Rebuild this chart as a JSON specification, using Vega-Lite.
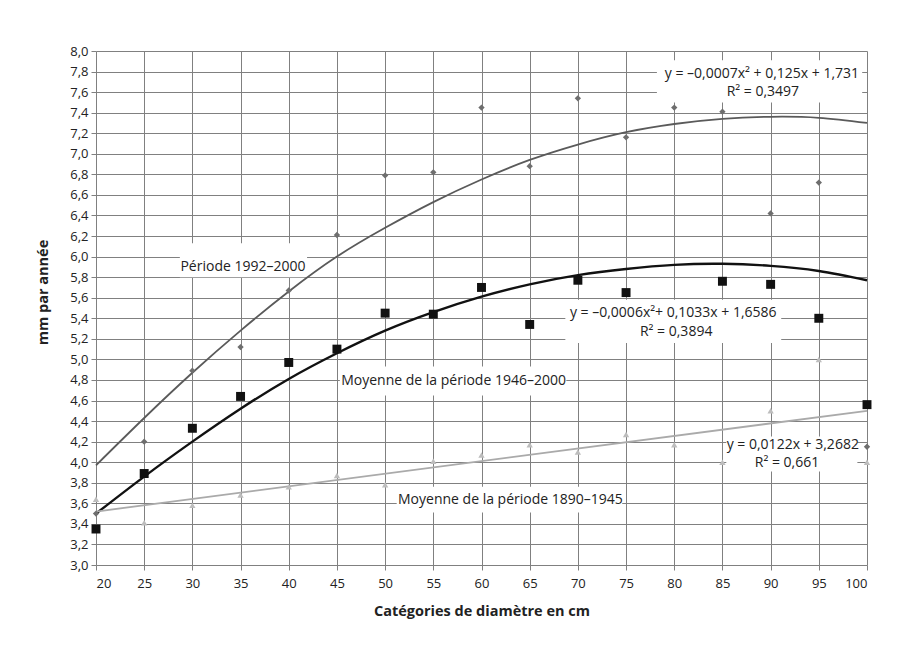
{
  "$schema": "https://vega.github.io/schema/vega-lite/v6.json",
  "width": 771,
  "height": 514,
  "autosize": "none",
  "padding": {"left": 96, "top": 51, "right": 32, "bottom": 83},
  "background": "white",
  "config": {
    "view": {"stroke": null},
    "font": "Open Sans",
    "axis": {
      "gridColor": "#808080",
      "gridWidth": 1,
      "gridOpacity": 1,
      "domain": false,
      "tickColor": "#808080",
      "tickSize": 5,
      "labelFont": "Open Sans",
      "labelFontSize": 13,
      "labelColor": "#222",
      "titleFont": "Open Sans",
      "titleFontSize": 14.5,
      "titleFontWeight": "bold",
      "titleColor": "#222"
    }
  },
  "datasets": {
    "pts": [
      {"d": 20, "v": 3.50, "s": "p1992"},
      {"d": 25, "v": 4.20, "s": "p1992"},
      {"d": 30, "v": 4.89, "s": "p1992"},
      {"d": 35, "v": 5.12, "s": "p1992"},
      {"d": 40, "v": 5.67, "s": "p1992"},
      {"d": 45, "v": 6.21, "s": "p1992"},
      {"d": 50, "v": 6.79, "s": "p1992"},
      {"d": 55, "v": 6.82, "s": "p1992"},
      {"d": 60, "v": 7.45, "s": "p1992"},
      {"d": 65, "v": 6.88, "s": "p1992"},
      {"d": 70, "v": 7.54, "s": "p1992"},
      {"d": 75, "v": 7.16, "s": "p1992"},
      {"d": 80, "v": 7.45, "s": "p1992"},
      {"d": 85, "v": 7.41, "s": "p1992"},
      {"d": 90, "v": 6.42, "s": "p1992"},
      {"d": 95, "v": 6.72, "s": "p1992"},
      {"d": 100, "v": 4.15, "s": "p1992"},
      {"d": 20, "v": 3.35, "s": "m1946"},
      {"d": 25, "v": 3.89, "s": "m1946"},
      {"d": 30, "v": 4.33, "s": "m1946"},
      {"d": 35, "v": 4.64, "s": "m1946"},
      {"d": 40, "v": 4.97, "s": "m1946"},
      {"d": 45, "v": 5.10, "s": "m1946"},
      {"d": 50, "v": 5.45, "s": "m1946"},
      {"d": 55, "v": 5.44, "s": "m1946"},
      {"d": 60, "v": 5.70, "s": "m1946"},
      {"d": 65, "v": 5.34, "s": "m1946"},
      {"d": 70, "v": 5.77, "s": "m1946"},
      {"d": 75, "v": 5.65, "s": "m1946"},
      {"d": 85, "v": 5.76, "s": "m1946"},
      {"d": 90, "v": 5.73, "s": "m1946"},
      {"d": 95, "v": 5.40, "s": "m1946"},
      {"d": 100, "v": 4.56, "s": "m1946"},
      {"d": 20, "v": 3.64, "s": "m1890"},
      {"d": 25, "v": 3.41, "s": "m1890"},
      {"d": 30, "v": 3.58, "s": "m1890"},
      {"d": 35, "v": 3.68, "s": "m1890"},
      {"d": 40, "v": 3.76, "s": "m1890"},
      {"d": 45, "v": 3.87, "s": "m1890"},
      {"d": 50, "v": 3.78, "s": "m1890"},
      {"d": 55, "v": 4.01, "s": "m1890"},
      {"d": 60, "v": 4.07, "s": "m1890"},
      {"d": 65, "v": 4.17, "s": "m1890"},
      {"d": 70, "v": 4.10, "s": "m1890"},
      {"d": 75, "v": 4.27, "s": "m1890"},
      {"d": 80, "v": 4.17, "s": "m1890"},
      {"d": 85, "v": 4.00, "s": "m1890"},
      {"d": 90, "v": 4.50, "s": "m1890"},
      {"d": 95, "v": 5.00, "s": "m1890"},
      {"d": 100, "v": 4.00, "s": "m1890"}
    ],
    "trend": [
      {"d": 20, "v": 3.97, "s": "p1992"},
      {"d": 25, "v": 4.43, "s": "p1992"},
      {"d": 30, "v": 4.87, "s": "p1992"},
      {"d": 35, "v": 5.28, "s": "p1992"},
      {"d": 40, "v": 5.66, "s": "p1992"},
      {"d": 45, "v": 6.00, "s": "p1992"},
      {"d": 50, "v": 6.28, "s": "p1992"},
      {"d": 55, "v": 6.53, "s": "p1992"},
      {"d": 60, "v": 6.75, "s": "p1992"},
      {"d": 65, "v": 6.94, "s": "p1992"},
      {"d": 70, "v": 7.09, "s": "p1992"},
      {"d": 75, "v": 7.21, "s": "p1992"},
      {"d": 80, "v": 7.29, "s": "p1992"},
      {"d": 85, "v": 7.34, "s": "p1992"},
      {"d": 90, "v": 7.36, "s": "p1992"},
      {"d": 95, "v": 7.35, "s": "p1992"},
      {"d": 100, "v": 7.30, "s": "p1992"},
      {"d": 20, "v": 3.50, "s": "m1946"},
      {"d": 25, "v": 3.86, "s": "m1946"},
      {"d": 30, "v": 4.20, "s": "m1946"},
      {"d": 35, "v": 4.52, "s": "m1946"},
      {"d": 40, "v": 4.81, "s": "m1946"},
      {"d": 45, "v": 5.06, "s": "m1946"},
      {"d": 50, "v": 5.28, "s": "m1946"},
      {"d": 55, "v": 5.46, "s": "m1946"},
      {"d": 60, "v": 5.61, "s": "m1946"},
      {"d": 65, "v": 5.73, "s": "m1946"},
      {"d": 70, "v": 5.82, "s": "m1946"},
      {"d": 75, "v": 5.88, "s": "m1946"},
      {"d": 80, "v": 5.92, "s": "m1946"},
      {"d": 85, "v": 5.93, "s": "m1946"},
      {"d": 90, "v": 5.91, "s": "m1946"},
      {"d": 95, "v": 5.86, "s": "m1946"},
      {"d": 100, "v": 5.77, "s": "m1946"},
      {"d": 20, "v": 3.52, "s": "m1890"},
      {"d": 100, "v": 4.50, "s": "m1890"}
    ],
    "boxes": [
      {"x1": 78.2, "x2": 99.5, "y1": 7.50, "y2": 7.91},
      {"x1": 68.7, "x2": 91.1, "y1": 5.16, "y2": 5.58},
      {"x1": 85.4, "x2": 99.0, "y1": 3.91, "y2": 4.25},
      {"x1": 28.7, "x2": 41.9, "y1": 5.80, "y2": 6.13},
      {"x1": 45.3, "x2": 68.8, "y1": 4.65, "y2": 4.93},
      {"x1": 51.2, "x2": 74.6, "y1": 3.51, "y2": 3.76}
    ],
    "labels": [
      {"x": 35.25, "y": 5.90, "t": "Période 1992–2000"},
      {"x": 57.1, "y": 4.79, "t": "Moyenne de la période 1946–2000"},
      {"x": 63.0, "y": 3.63, "t": "Moyenne de la période 1890–1945"},
      {"x": 89.1, "y": 7.78, "t": "y = –0,0007x² + 0,125x + 1,731"},
      {"x": 89.2, "y": 7.60, "t": "R² = 0,3497"},
      {"x": 79.9, "y": 5.45, "t": "y = –0,0006x²+ 0,1033x + 1,6586"},
      {"x": 80.2, "y": 5.27, "t": "R² = 0,3894"},
      {"x": 92.3, "y": 4.17, "t": "y = 0,0122x + 3,2682"},
      {"x": 91.7, "y": 3.99, "t": "R² = 0,661"}
    ]
  },
  "encoding": {
    "x": {
      "field": "d", "type": "quantitative",
      "scale": {"domain": [20, 100], "nice": false, "zero": false},
      "axis": {
        "title": "Catégories de diamètre en cm",
        "values": [20, 25, 30, 35, 40, 45, 50, 55, 60, 65, 70, 75, 80, 85, 90, 95, 100],
        "labelPadding": 7,
        "titlePadding": 14
      }
    },
    "y": {
      "field": "v", "type": "quantitative",
      "scale": {"domain": [3, 8], "nice": false, "zero": false},
      "axis": {
        "title": "mm par année",
        "values": [3.0, 3.2, 3.4, 3.6, 3.8, 4.0, 4.2, 4.4, 4.6, 4.8, 5.0, 5.2, 5.4, 5.6, 5.8, 6.0, 6.2, 6.4, 6.6, 6.8, 7.0, 7.2, 7.4, 7.6, 7.8, 8.0],
        "labelExpr": "replace(format(datum.value, '.1f'), '.', ',')",
        "labelPadding": 3,
        "titlePadding": 19,
        "titleY": 241
      }
    }
  },
  "layer": [
    {
      "data": {"name": "boxes"},
      "mark": {"type": "rect", "fill": "white", "stroke": null},
      "encoding": {
        "x": {"field": "x1", "type": "quantitative"},
        "x2": {"field": "x2"},
        "y": {"field": "y1", "type": "quantitative"},
        "y2": {"field": "y2"}
      }
    },
    {
      "data": {"name": "trend"},
      "transform": [{"filter": "datum.s === 'p1992'"}],
      "mark": {"type": "line", "color": "#5a5a5a", "strokeWidth": 1.8, "interpolate": "natural"}
    },
    {
      "data": {"name": "trend"},
      "transform": [{"filter": "datum.s === 'm1946'"}],
      "mark": {"type": "line", "color": "#111", "strokeWidth": 2.4, "interpolate": "natural"}
    },
    {
      "data": {"name": "trend"},
      "transform": [{"filter": "datum.s === 'm1890'"}],
      "mark": {"type": "line", "color": "#aaaaaa", "strokeWidth": 1.8}
    },
    {
      "data": {"name": "pts"},
      "transform": [{"filter": "datum.s === 'p1992'"}],
      "mark": {"type": "point", "shape": "diamond", "filled": true, "color": "#6e6e6e", "size": 40, "opacity": 1}
    },
    {
      "data": {"name": "pts"},
      "transform": [{"filter": "datum.s === 'm1946'"}],
      "mark": {"type": "point", "shape": "square", "filled": true, "color": "#111", "size": 80, "opacity": 1}
    },
    {
      "data": {"name": "pts"},
      "transform": [{"filter": "datum.s === 'm1890'"}],
      "mark": {"type": "point", "shape": "triangle-up", "filled": true, "color": "#bdbdbd", "size": 40, "opacity": 1}
    },
    {
      "data": {"name": "labels"},
      "mark": {"type": "text", "font": "Open Sans", "fontSize": 14, "color": "#222", "align": "center", "baseline": "middle"},
      "encoding": {
        "x": {"field": "x", "type": "quantitative"},
        "y": {"field": "y", "type": "quantitative"},
        "text": {"field": "t"}
      }
    }
  ]
}
